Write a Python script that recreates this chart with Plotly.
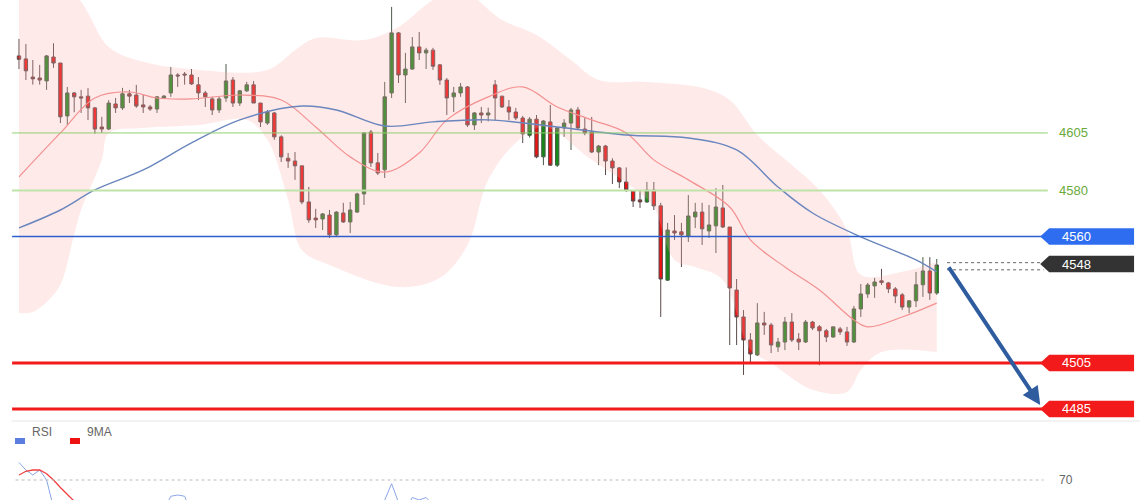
import plotly.graph_objects as go

# ---- candle data (134 bars) ----
opens = [4638.5,4637.2,4629.3,4628.9,4627.6,4638,4635.4,4612.4,4622.4,4620.7,4621,4615.9,4607.6,4606.7,4617.6,4615.9,4622,4621.5,4617.2,4616.3,
4615.4,4620.2,4622.4,4630.2,4630.6,4630.2,4625.9,4622.4,4619.8,4615,4620.2,4628,4618,4623.3,4625.9,4618,4609.3,4613.7,4603.3,4594,
4592.8,4590.7,4575,4568,4567.6,4569.3,4560.7,4570.2,4566.3,4570.6,4578.5,4605.4,4592,4589,4622.4,4648.5,4630.2,4632.8,4642.4,4639.8,
4641,4634.6,4628,4620.7,4622.4,4625,4608.5,4613.7,4612.8,4625.9,4621,4616.3,4614.1,4611.5,4604,4611,4594.6,4609.8,4591,4607.2,
4609.3,4615,4606.7,4605.4,4596.7,4599.3,4592.8,4589.8,4583.7,4579.8,4575.9,4575,4580.2,4573.3,4541,4562.4,4562,4560.2,4568.5,4570.6,
4562.4,4564.6,4572.4,4564.1,4536.7,4525,4515,4508.5,4522.4,4521.5,4512,4514.1,4522.8,4515.4,4514.1,4522.8,4520.7,4519,4516.3,4519.8,
4518.5,4514.1,4528.5,4535,4538.5,4540.7,4539.8,4537.2,4534.6,4529.3,4532,4539,4545,4535.4]
closes = [4637,4632,4628.5,4628,4638.5,4635.4,4612,4622.4,4620.7,4620.2,4615.9,4606.7,4606.7,4618,4615.9,4622,4621,4616.7,4616.3,4615.4,
4620.7,4621,4630.2,4629.8,4630.2,4626.3,4622.4,4620.7,4615,4619.8,4627.6,4618,4623.3,4625.9,4618,4609.8,4614.1,4603.3,4594.6,4592.8,
4590.7,4575,4567.2,4567.2,4569.8,4560.7,4570.6,4566.3,4571.5,4578.5,4605,4592,4587.6,4620.7,4648.5,4630.2,4632.8,4642.4,4639.8,4641,
4634,4628,4620.2,4622.4,4625,4608.5,4613.7,4612.8,4613.7,4620.2,4616.3,4614.1,4611.5,4604.6,4611,4594.6,4610.2,4591,4607.2,4609.3,
4615,4607.2,4605,4596.7,4599.3,4592.8,4589.8,4583.7,4580.2,4575.4,4575,4580.2,4573.3,4541.5,4562.8,4561.5,4560.7,4568.9,4570.6,4563.3,
4565,4572.8,4564.1,4537.6,4525,4515,4508.9,4522.4,4521.5,4512.8,4514.1,4522.8,4515,4514.1,4522.8,4520.2,4519,4516.3,4520.7,4518.5,
4514.1,4528.5,4535,4538.9,4540.2,4540,4537.2,4534.1,4529.3,4532,4539,4545,4535.4,4547.6]
highs = [4645.9,4643.7,4636.7,4634.6,4638.9,4644,4635.4,4625,4622.8,4623.7,4624.5,4616.3,4612,4619.3,4620.2,4624.6,4623.7,4625.9,4621.5,4617.2,
4621,4621.5,4633.7,4631,4631.5,4632.8,4629.3,4623.3,4620.7,4620.7,4635,4629.3,4623.7,4627.2,4627.6,4618,4615,4614.1,4604,4596.3,
4596.7,4590.7,4581.5,4572,4570.2,4571.5,4571,4574.6,4575,4579,4605.4,4606.3,4596.3,4627.2,4659.8,4648.9,4639.8,4646.7,4648.9,4642,
4642,4635,4628.9,4625,4626.7,4625.4,4614.1,4616.3,4616,4628,4621,4619.3,4615.9,4612.4,4611.9,4612.8,4610.6,4617.2,4607.6,4611,
4615.9,4616.3,4611.5,4612,4599.8,4599.8,4594,4590.2,4590,4580.2,4580.2,4583.7,4583.7,4574.6,4565.9,4569.3,4565.9,4578,4574.6,4574.6,
4573.7,4581,4582.4,4564.1,4541.5,4528,4518,4531,4527.2,4522.4,4515.9,4525,4526.7,4518,4523.7,4523.3,4521.5,4519.8,4520.7,4520.7,
4520.7,4529.8,4539.3,4539.8,4542,4545.9,4540.2,4538,4535.4,4532.4,4544.6,4551,4551,4550.2]
lows = [4632.8,4628,4626,4626,4623.7,4633.3,4609.3,4608.5,4614,4613.7,4610.6,4604.6,4605,4606.3,4613.7,4615,4618,4615.9,4613.7,4614.6,
4613.7,4619.8,4620.7,4625,4626,4625.9,4619.3,4616.3,4612.8,4613.7,4618.5,4616.3,4616.7,4622.8,4618,4607.6,4608.5,4602,4592.4,4589.8,
4584.6,4574,4565.9,4563.7,4562.8,4559.3,4560,4565.9,4561.5,4570.2,4573.7,4590.2,4586.7,4585.4,4620.2,4626.7,4618,4632.4,4636.7,4632.8,
4632.4,4625.9,4612.8,4614.1,4620.7,4607.6,4606.3,4609.3,4610,4610.6,4615.9,4610.6,4610.6,4600.6,4603,4594,4591,4590.7,4590.2,4603.3,
4597.6,4606.3,4604,4596.3,4591,4586.7,4582.8,4581,4579.3,4572.8,4572.4,4574.6,4571.5,4525,4540.7,4558.5,4546.7,4557.6,4563.7,4556.3,
4559.3,4552.8,4563.7,4512.8,4512.8,4499.8,4505,4508,4517.2,4509.3,4509.8,4510.6,4514.1,4510.6,4513.7,4519.3,4504,4514.1,4515.9,4517.2,
4512.4,4513.7,4525,4533.3,4533.3,4538.9,4535.4,4531,4528,4526.7,4529.3,4533.7,4532.4,4534.6]
idx = list(range(len(opens)))

# ---- overlays ----
ma_fast_x = [0,6,11,16,20,25,32,38,43,48,53,58,62,68,73,78,83,88,92,97,103,106,111,116,121,123,128,133]
ma_fast_y = [4585.9,4605,4620.2,4622.8,4620.2,4619.8,4621.5,4619.3,4607.6,4594.6,4588,4596.3,4610.7,4620.7,4625,4616.3,4610.7,4605,4593.3,4584.6,4572.8,4558.5,4546.7,4536.7,4523.7,4520.7,4525,4531]
ma_slow_x = [0,6,11,18,25,32,41,46,53,60,68,78,88,97,104,110,115,122,130,133]
ma_slow_y = [4563.7,4571.5,4580.2,4588.9,4600.7,4610.7,4616.7,4615,4608,4609.8,4610.7,4607.6,4604.1,4602.8,4597.6,4581.5,4570.2,4559.8,4549.8,4544.6]
bb_up_x = [0,8,13,18,26,36,40,43,50,55,60,64,70,75,80,84,91,99,103,107,112,116,120,122,128,133]
bb_up_y = [4671.5,4665,4642.4,4635.9,4632.4,4632.4,4641,4646.3,4645.4,4651.1,4662.8,4667.2,4654.1,4647.6,4636.7,4628,4627.2,4624.6,4619.3,4604.1,4591.1,4580.2,4562.8,4543.3,4544.6,4548.9]
bb_lo_x = [0,2,4,6,8,9,12,13,18,26,33,36,39,41,45,55,61,65,68,72,76,83,90,92,95,98,102,106,109,115,120,122,125,133]
bb_lo_y = [4526.7,4527.2,4531.5,4539,4561,4571.5,4593.3,4605,4607.2,4608.5,4610.7,4602,4575.9,4554.1,4547.6,4538,4542,4556.3,4584.6,4600.7,4607.6,4593.3,4578.9,4572.8,4549.8,4546.7,4541.1,4510.7,4505,4493.3,4492.4,4502,4509.8,4509.8]

rsi_x = [0,1,2,3,4,5,6,None,20,21,22,23,24,25,26,None,51,52,53,54,55,56,57,58,59,60,61]
rsi_y = [77,74,72,74,70,60,48,None,50,58,63.5,64,63.5,58,50,None,50,58,62,68.5,61,58,63,62,63,60,50]
rsi_ma_x = [0,1,2,3,4,5,6,7,8,9,10]
rsi_ma_y = [72,73.5,74,74,72.5,70,67,64,61.5,59,56]

levels_green = [4605, 4580]
level_blue = 4560
level_last = 4548
levels_red = [4505, 4485]

FONT = "Liberation Sans"
fig = go.Figure()

fig.add_trace(go.Scatter(x=bb_up_x, y=bb_up_y, mode="lines", line=dict(width=0, shape="spline"), hoverinfo="skip", showlegend=False))
fig.add_trace(go.Scatter(x=bb_lo_x, y=bb_lo_y, mode="lines", line=dict(width=0, shape="spline"), fill="tonexty",
                         fillcolor="rgba(255,170,170,0.25)", hoverinfo="skip", showlegend=False))
fig.add_trace(go.Scatter(x=ma_fast_x, y=ma_fast_y, mode="lines", line=dict(color="#f39090", width=1.2, shape="spline"), showlegend=False))
fig.add_trace(go.Scatter(x=ma_slow_x, y=ma_slow_y, mode="lines", line=dict(color="#6a86bd", width=1.4, shape="spline"), showlegend=False))

fig.add_trace(go.Candlestick(x=idx, open=opens, high=highs, low=lows, close=closes,
    increasing=dict(line=dict(color="#4a5a4a", width=1), fillcolor="#168a16"),
    decreasing=dict(line=dict(color="#5a4a4a", width=1), fillcolor="#ee1111"),
    whiskerwidth=0, showlegend=False))

fig.add_trace(go.Scatter(x=rsi_x, y=rsi_y, mode="lines", line=dict(color="#8aa6e8", width=1), yaxis="y2", connectgaps=False, showlegend=False))
fig.add_trace(go.Scatter(x=rsi_ma_x, y=rsi_ma_y, mode="lines", line=dict(color="#f04040", width=1.3), yaxis="y2", showlegend=False))

x0, x1 = -1.0, 149.1
shapes = []
shapes.append(dict(type="line", xref="x", yref="y", x0=x0, x1=x1, y0=levels_green[0], y1=levels_green[0], line=dict(color="#8fd06f", width=1)))
shapes.append(dict(type="line", xref="x", yref="y", x0=x0, x1=x1, y0=levels_green[1], y1=levels_green[1], line=dict(color="#bfe3a8", width=2)))
shapes.append(dict(type="line", xref="x", yref="y", x0=x0, x1=x1, y0=level_blue, y1=level_blue, line=dict(color="#2d5fcc", width=1.5)))
for lv in levels_red:
    shapes.append(dict(type="line", xref="x", yref="y", x0=x0, x1=x1, y0=lv, y1=lv, line=dict(color="#f21a1a", width=3)))
for dy in (0.6, -2.5):
    shapes.append(dict(type="line", xref="x", yref="y", x0=134.5, x1=148.5, y0=level_last+dy, y1=level_last+dy, line=dict(color="#666", width=1, dash="dot")))

def tag(level, color):
    h = 3.6
    return dict(type="path", xref="x", yref="y", fillcolor=color, line=dict(width=0),
                path=f"M 148.0 {level} L 149.3 {level+h} L 161.6 {level+h} L 161.6 {level-h} L 149.3 {level-h} Z")
shapes.append(tag(level_blue, "#2f6df0"))
shapes.append(tag(level_last, "#333333"))
for lv in levels_red:
    shapes.append(tag(lv, "#f21a1a"))
shapes.append(dict(type="line", xref="paper", yref="paper", x0=0.01, x1=1, y0=0.158, y1=0.158, line=dict(color="#e6e6e6", width=1)))
shapes.append(dict(type="line", xref="x", yref="y2", x0=-0.5, x1=148.5, y0=70, y1=70, line=dict(color="#bbbbbb", width=1, dash="dot")))
shapes.append(dict(type="rect", xref="paper", yref="paper", x0=15/1140, x1=25/1140, y0=1-444/500, y1=1-438/500, fillcolor="#5b7de0", line=dict(width=0)))
shapes.append(dict(type="rect", xref="paper", yref="paper", x0=70/1140, x1=80/1140, y0=1-444/500, y1=1-438/500, fillcolor="#ee1111", line=dict(width=0)))

ann = []
for lv in levels_green:
    ann.append(dict(x=150.5, y=lv, xref="x", yref="y", text=str(lv), showarrow=False, xanchor="left",
                    font=dict(family=FONT, size=13, color="#6aaa3a")))
for lv in [level_blue, level_last] + levels_red:
    ann.append(dict(x=150.8, y=lv, xref="x", yref="y", text=str(lv), showarrow=False, xanchor="left",
                    font=dict(family=FONT, size=13, color="white")))
ann.append(dict(x=148, y=4486.7, ax=134.6, ay=4547.2, xref="x", yref="y", axref="x", ayref="y", text="",
                showarrow=True, arrowhead=2, arrowsize=0.9, arrowwidth=4, arrowcolor="#2e5c9e"))
ann.append(dict(x=30/1140, y=1-441/500, xref="paper", yref="paper", text="RSI", showarrow=False, xanchor="left",
                font=dict(family=FONT, size=12, color="#666")))
ann.append(dict(x=85/1140, y=1-441/500, xref="paper", yref="paper", text="9MA", showarrow=False, xanchor="left",
                font=dict(family=FONT, size=12, color="#666")))
ann.append(dict(x=150.5, y=70, xref="x", yref="y2", text="70", showarrow=False, xanchor="left",
                font=dict(family=FONT, size=12, color="#666")))

fig.update_layout(
    width=1140, height=500, margin=dict(l=0, r=0, t=0, b=0),
    paper_bgcolor="white", plot_bgcolor="white",
    xaxis=dict(range=[-2.754, 162.46], visible=False, rangeslider=dict(visible=False), fixedrange=True),
    yaxis=dict(range=[4480.2, 4662.8], domain=[0.16, 1], visible=False),
    yaxis2=dict(range=[62, 94], domain=[0, 0.16], visible=False),
    shapes=shapes, annotations=ann, font=dict(family=FONT),
)
fig.write_html("out.html", config={"displayModeBar": False},
               post_script="document.body.style.margin='0';document.body.style.overflow='hidden';")
